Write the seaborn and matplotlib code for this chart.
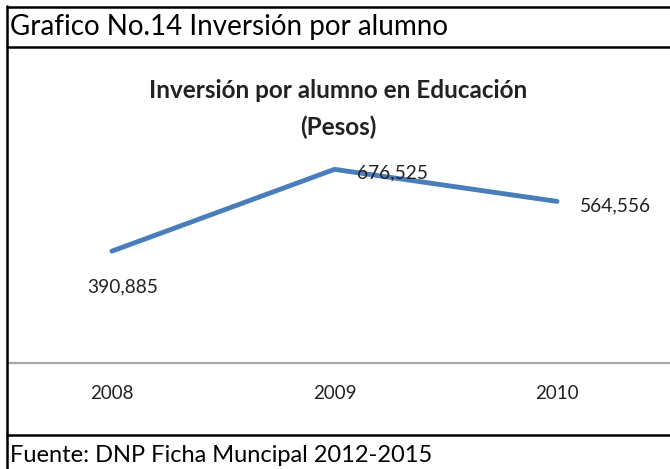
import matplotlib
matplotlib.use("Agg")
import matplotlib.pyplot as plt
import seaborn as sns
import pandas as pd
from matplotlib.lines import Line2D

years = ["2008", "2009", "2010"]
values = [390885, 676525, 564556]
labels = ["390,885", "676,525", "564,556"]
header = "Grafico No.14 Inversión por alumno"
title_lines = ["Inversión por alumno en Educación", "(Pesos)"]
footer = "Fuente: DNP Ficha Muncipal 2012-2015"

sns.set_theme(style="white")
plt.rcParams['font.family'] = ['Lato', 'DejaVu Sans']

W, H = 670, 469
fig = plt.figure(figsize=(W / 100, H / 100), dpi=100)
fig.patch.set_facecolor("white")

def fx(px):
    return px / W

def fy(py):
    return 1 - py / H

# axes: bottom at y=363, top at y=134, left at x=9 to right edge
ax = fig.add_axes([fx(9), fy(363), 1 - fx(9), (363 - 134) / H])
df = pd.DataFrame({"year": years, "value": values})
sns.lineplot(data=df, x="year", y="value", ax=ax, color="#4A7EBB",
             linewidth=3.5, sort=False, solid_capstyle="round")
ax.set_ylim(0, 800000)
step = 222.5
ax.set_xlim(-(112 - 9) / step, 2 + (670 - 557) / step)
ax.set_xlabel("")
ax.set_ylabel("")
ax.set_yticks([])
for s in ["top", "left", "right"]:
    ax.spines[s].set_visible(False)
ax.spines["bottom"].set_color("#A6A6A6")
ax.spines["bottom"].set_linewidth(1.6)
ax.tick_params(axis="x", length=0, pad=16, labelsize=13.5, labelcolor="#222222")
ax.patch.set_alpha(0)

# data labels
offsets = [(11, -36, "center"), (22, -4, "left"), (23, -4, "left")]
for i, (v, lab) in enumerate(zip(values, labels)):
    dx, dy, ha = offsets[i]
    ax.annotate(lab, (i, v), xytext=(dx, dy), textcoords="offset pixels",
                ha=ha, va="center", fontsize=13.8, color="#222222")

# titles
fig.text(fx(338), fy(91), title_lines[0], ha="center", va="center",
         fontsize=17.5, fontweight="bold", color="#222222")
fig.text(fx(338), fy(127), title_lines[1], ha="center", va="center",
         fontsize=17.5, fontweight="bold", color="#222222")

fig.text(fx(10), fy(27), header, ha="left", va="center", fontsize=20, color="black")
fig.text(fx(10), fy(455), footer, ha="left", va="center", fontsize=17, color="black")

# table borders
lw = 1.8
fig.add_artist(Line2D([fx(7), 1], [fy(7), fy(7)], color="black", lw=lw))
fig.add_artist(Line2D([fx(7), 1], [fy(47), fy(47)], color="black", lw=lw))
fig.add_artist(Line2D([fx(7), 1], [fy(435), fy(435)], color="black", lw=lw))
fig.add_artist(Line2D([fx(7), fx(7)], [fy(6), 0], color="black", lw=lw))

fig.savefig("out.png", dpi=100, facecolor="white")
